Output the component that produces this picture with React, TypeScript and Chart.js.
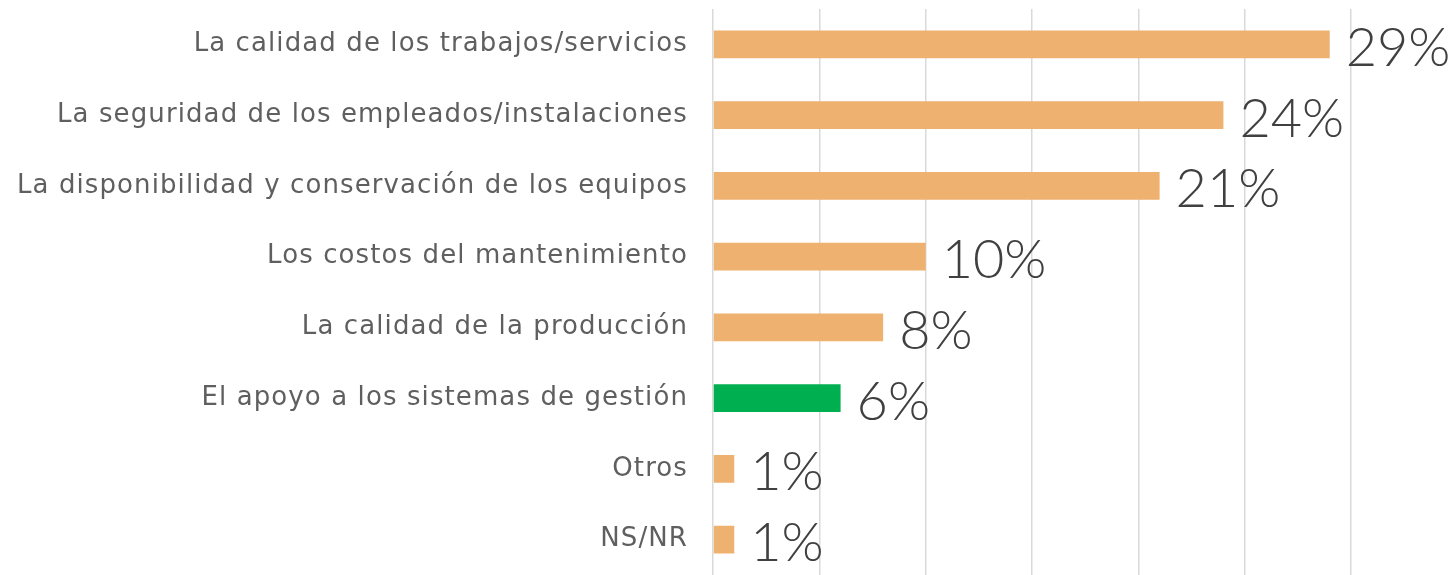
import React, { useEffect, useRef } from "react";
import { Chart, registerables } from "chart.js";

Chart.register(...registerables);

const categories = [
  "La calidad de los trabajos/servicios",
  "La seguridad de los empleados/instalaciones",
  "La disponibilidad y conservación de los equipos",
  "Los costos del mantenimiento",
  "La calidad de la producción",
  "El apoyo a los sistemas de gestión",
  "Otros",
  "NS/NR",
];
const values = [29, 24, 21, 10, 8, 6, 1, 1];
const highlightIndex = 5;
const valueLabels = ["29%", "24%", "21%", "10%", "8%", "6%", "1%", "1%"];

const ORANGE = "#EEB170";
const GREEN = "#00B050";

const spacingPlugin = {
  id: "labelSpacing",
  beforeDraw(chart: any) {
    chart.ctx.letterSpacing = "1.1px";
  },
  afterDraw(chart: any) {
    chart.ctx.letterSpacing = "0px";
  },
};

const dataLabelPlugin = {
  id: "dataLabels",
  afterDatasetsDraw(chart: any) {
    const ctx = chart.ctx;
    const meta = chart.getDatasetMeta(0);
    ctx.save();
    ctx.letterSpacing = "0px";
    ctx.font = "300 54px Lato";
    ctx.fillStyle = "#404040";
    ctx.textAlign = "left";
    ctx.textBaseline = "middle";
    meta.data.forEach((bar: any, i: number) => {
      ctx.fillText(valueLabels[i], bar.x + 16, bar.y + 4);
    });
    ctx.restore();
  },
};

export default function App() {
  const ref = useRef<HTMLCanvasElement>(null);
  useEffect(() => {
    document.body.style.margin = "0";
    const chart = new Chart(ref.current!, {
      type: "bar",
      data: {
        labels: categories,
        datasets: [
          {
            data: values,
            backgroundColor: values.map((_, i) => (i === highlightIndex ? GREEN : ORANGE)),
            barPercentage: 0.8,
            categoryPercentage: 0.49,
          },
        ],
      },
      options: {
        indexAxis: "y",
        animation: false,
        responsive: false,
        maintainAspectRatio: false,
        layout: { padding: { top: 9, right: 105, bottom: 0, left: 0 } },
        plugins: { legend: { display: false }, tooltip: { enabled: false } },
        scales: {
          x: {
            min: 0,
            max: 30,
            ticks: { display: false, stepSize: 5 },
            grid: { color: "#d9d9d9", lineWidth: 1.5, drawTicks: false },
            border: { display: false },
            afterFit: (scale: any) => {
              scale.height = 0;
              scale.paddingLeft = 0;
              scale.paddingRight = 0;
            },
          },
          y: {
            grid: { display: false, drawTicks: false },
            border: { display: false },
            ticks: {
              color: "#5f5f5f",
              font: { family: "DejaVu Sans", size: 26, weight: "normal" },
              padding: 25,
            },
            afterFit: (scale: any) => {
              scale.width = 713;
              scale.paddingTop = 0;
              scale.paddingBottom = 0;
            },
          },
        },
      },
      plugins: [spacingPlugin, dataLabelPlugin],
    });
    return () => chart.destroy();
  }, []);
  return <canvas ref={ref} width={1456} height={575} style={{ display: "block" }} />;
}
